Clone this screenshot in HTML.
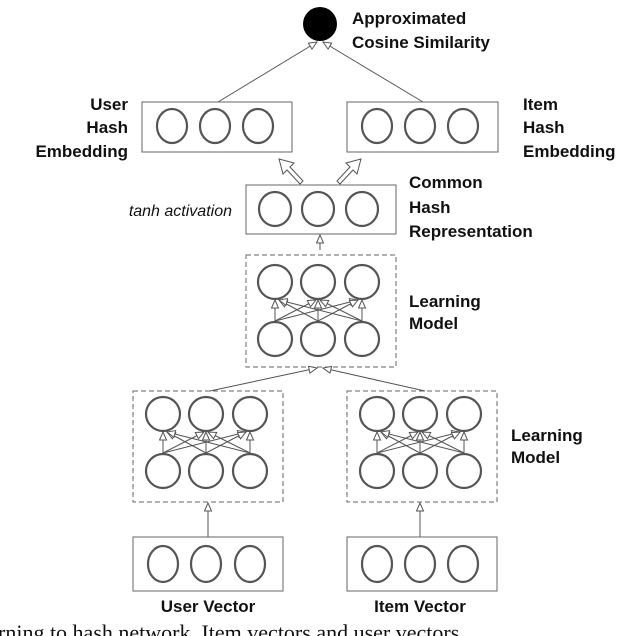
<!DOCTYPE html>
<html><head><style>
body{margin:0;background:#fff;width:640px;height:636px;overflow:hidden;position:relative}
svg{position:absolute;left:0;top:0}
</style></head><body>
<svg width="640" height="636" viewBox="0 0 640 636" xmlns="http://www.w3.org/2000/svg">
<defs>
<marker id="ah" markerWidth="10" markerHeight="10" refX="9" refY="4" orient="auto" markerUnits="userSpaceOnUse">
<path d="M1,0.5 L9,4 L1,7.5 Z" fill="#fff" stroke="#555" stroke-width="1"/>
</marker>
</defs>
<g font-family="Liberation Sans, sans-serif" font-weight="bold" font-size="17" fill="#111">
<text x="352" y="24">Approximated</text>
<text x="352" y="48">Cosine Similarity</text>
<text x="128" y="110" text-anchor="end">User</text>
<text x="128" y="133" text-anchor="end">Hash</text>
<text x="128" y="157" text-anchor="end">Embedding</text>
<text x="523" y="110">Item</text>
<text x="523" y="133">Hash</text>
<text x="523" y="157">Embedding</text>
<text x="409" y="188">Common</text>
<text x="409" y="213">Hash</text>
<text x="409" y="237">Representation</text>
<text x="409" y="307">Learning</text>
<text x="409" y="329">Model</text>
<text x="511" y="441">Learning</text>
<text x="511" y="463">Model</text>
<text x="208" y="612" text-anchor="middle">User Vector</text>
<text x="420" y="612" text-anchor="middle">Item Vector</text>
</g>
<text x="232" y="216" text-anchor="end" font-family="Liberation Sans, sans-serif" font-style="italic" font-size="16" fill="#111">tanh activation</text>
<text x="-2" y="640" font-family="Liberation Serif, serif" font-size="22" fill="#111">rning to hash network.  Item vectors and user vectors</text>

<circle cx="320" cy="24" r="17" fill="#000"/>
<g stroke="#555" stroke-width="1" fill="none">
<line x1="218" y1="102" x2="317" y2="42" marker-end="url(#ah)"/>
<line x1="423" y1="102" x2="323" y2="42" marker-end="url(#ah)"/>
<rect x="142" y="102" width="150" height="50" stroke="#666"/>
<rect x="347" y="102" width="151" height="50" stroke="#666"/>
<rect x="246" y="185" width="150" height="49" stroke="#666"/>
<line x1="320" y1="250" x2="320" y2="235" marker-end="url(#ah)"/>
<rect x="246" y="255" width="150" height="112" stroke="#666" stroke-dasharray="5,3"/>
<rect x="133" y="391" width="150" height="111" stroke="#666" stroke-dasharray="5,3"/>
<rect x="347" y="391" width="150" height="111" stroke="#666" stroke-dasharray="5,3"/>
<line x1="210" y1="391" x2="317" y2="368" marker-end="url(#ah)"/>
<line x1="425" y1="391" x2="323" y2="368" marker-end="url(#ah)"/>
<line x1="208" y1="537" x2="208" y2="503" marker-end="url(#ah)"/>
<line x1="420" y1="537" x2="420" y2="503" marker-end="url(#ah)"/>
<rect x="133" y="537" width="150" height="54" stroke="#666"/>
<rect x="347" y="537" width="150" height="54" stroke="#666"/>
</g>
<!-- hollow block arrows -->
<g fill="#fff" stroke="#555" stroke-width="1">
<polygon points="300,184 287,170 283,174 279,159 294,163 290,167 303,181"/>
<polygon points="340,184 353,170 357,174 361,159 346,163 350,167 337,181"/>
</g>
<g fill="none" stroke="#555" stroke-width="2.2">
<ellipse cx="172" cy="126" rx="15" ry="17"/><ellipse cx="215" cy="126" rx="15" ry="17"/><ellipse cx="258" cy="126" rx="15" ry="17"/>
<ellipse cx="377" cy="126" rx="15" ry="17"/><ellipse cx="420" cy="126" rx="15" ry="17"/><ellipse cx="463" cy="126" rx="15" ry="17"/>
<ellipse cx="275" cy="209" rx="16" ry="17"/><ellipse cx="318" cy="209" rx="16" ry="17"/><ellipse cx="362" cy="209" rx="16" ry="17"/>
<ellipse cx="163" cy="564" rx="15" ry="18"/><ellipse cx="206" cy="564" rx="15" ry="18"/><ellipse cx="250" cy="564" rx="15" ry="18"/>
<ellipse cx="377" cy="564" rx="15" ry="18"/><ellipse cx="420" cy="564" rx="15" ry="18"/><ellipse cx="463" cy="564" rx="15" ry="18"/>
</g>
<g id="lm" fill="none" stroke="#555">
<g stroke-width="1">
<line x1="275" y1="321" x2="275" y2="300" marker-end="url(#ah)"/>
<line x1="275" y1="321" x2="316" y2="300" marker-end="url(#ah)"/>
<line x1="275" y1="321" x2="358" y2="300" marker-end="url(#ah)"/>
<line x1="318" y1="321" x2="279" y2="300" marker-end="url(#ah)"/>
<line x1="318" y1="321" x2="318" y2="300" marker-end="url(#ah)"/>
<line x1="318" y1="321" x2="358" y2="300" marker-end="url(#ah)"/>
<line x1="362" y1="321" x2="279" y2="300" marker-end="url(#ah)"/>
<line x1="362" y1="321" x2="320" y2="300" marker-end="url(#ah)"/>
<line x1="362" y1="321" x2="362" y2="300" marker-end="url(#ah)"/>
</g>
<g stroke-width="2.2">
<circle cx="275" cy="282" r="17"/><circle cx="318" cy="282" r="17"/><circle cx="362" cy="282" r="17"/>
<circle cx="275" cy="339" r="17"/><circle cx="318" cy="339" r="17"/><circle cx="362" cy="339" r="17"/>
</g>
</g>
<use href="#lm" transform="translate(-112,132)"/>
<use href="#lm" transform="translate(102,132)"/>
</svg>
</body></html>
